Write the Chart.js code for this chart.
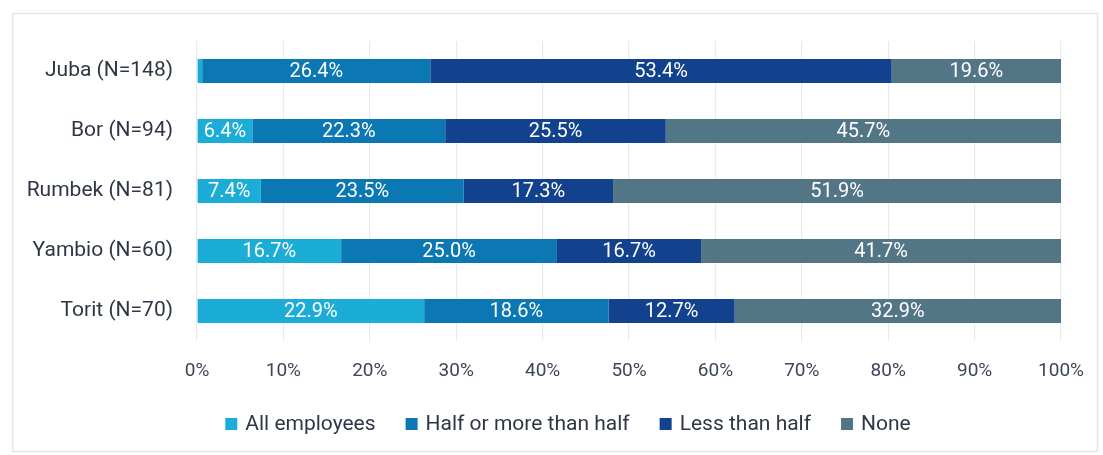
<!DOCTYPE html>
<html>
<head>
<meta charset="utf-8">
<style>
  html, body { margin: 0; padding: 0; background: #ffffff; }
  #wrap { position: relative; width: 1103px; height: 455px; }
  canvas { display: block; }
</style>
<script src="https://cdn.jsdelivr.net/npm/chart.js@4/dist/chart.umd.min.js"></script>
</head>
<body>
<div id="wrap"><canvas id="chart" width="1103" height="455"></canvas></div>
<script>
// Share of employees, by town (percent of respondents)
const towns = ["Juba (N=148)", "Bor (N=94)", "Rumbek (N=81)", "Yambio (N=60)", "Torit (N=70)"];
const seriesNames = ["All employees", "Half or more than half", "Less than half", "None"];
const allEmployees = [0.6, 6.4, 7.4, 16.7, 22.9];
const halfOrMore   = [26.4, 22.3, 23.5, 25.0, 18.6];
const lessThanHalf = [53.4, 25.5, 17.3, 16.7, 12.7];
const noneShare    = [19.6, 45.7, 51.9, 41.7, 32.9];
const tickValues   = [0, 10, 20, 30, 40, 50, 60, 70, 80, 90, 100];

const colors = ["#1badd6", "#0b77b3", "#12418d", "#537686"];
const raw = [allEmployees, halfOrMore, lessThanHalf, noneShare];

// each row is stacked to 100%
const rowTotals = towns.map((_, i) => raw.reduce((s, arr) => s + arr[i], 0));
const datasets = raw.map((arr, k) => ({
  label: seriesNames[k],
  data: arr.map((v, i) => v / rowTotals[i] * 100),
  rawValues: arr,
  backgroundColor: colors[k],
  borderWidth: 0,
  barPercentage: 0.8,
  categoryPercentage: 0.5
}));

const fontFamily = "Roboto, 'Liberation Sans', sans-serif";

// white value labels centred in each segment
const segmentLabels = {
  id: "segmentLabels",
  afterDatasetsDraw(chart) {
    const ctx = chart.ctx;
    ctx.save();
    ctx.fillStyle = "#ffffff";
    ctx.font = "20px " + fontFamily;
    ctx.textAlign = "center";
    ctx.textBaseline = "middle";
    chart.data.datasets.forEach((ds, di) => {
      const meta = chart.getDatasetMeta(di);
      meta.data.forEach((bar, i) => {
        const v = ds.rawValues[i];
        const w = Math.abs(bar.x - bar.base);
        if (w < 30) return;
        ctx.fillText(v.toFixed(1) + "%", (bar.x + bar.base) / 2, bar.y + 1);
      });
    });
    ctx.restore();
  }
};

// legend row under the axis: small square swatch followed by the series name
const legendRow = {
  id: "legendRow",
  afterDraw(chart) {
    const ctx = chart.ctx;
    const box = 12, gapText = 8, gapItem = 30, centreX = 568, y = 424;
    ctx.save();
    ctx.font = "21px " + fontFamily;
    ctx.textBaseline = "middle";
    const items = chart.data.datasets.map(ds => ({
      label: ds.label, color: ds.backgroundColor, w: ctx.measureText(ds.label).width
    }));
    const total = items.reduce((s, it) => s + box + gapText + it.w, 0) + gapItem * (items.length - 1);
    let x = centreX - total / 2;
    items.forEach(it => {
      ctx.fillStyle = it.color;
      ctx.fillRect(x, y - box / 2, box, box);
      ctx.fillStyle = "#2f3646";
      ctx.fillText(it.label, x + box + gapText, y + 1);
      x += box + gapText + it.w + gapItem;
    });
    ctx.restore();
  }
};

// light frame around the figure
const frame = {
  id: "frame",
  beforeDraw(chart) {
    const ctx = chart.ctx;
    ctx.save();
    ctx.strokeStyle = "#e4e6e8";
    ctx.lineWidth = 1.5;
    ctx.strokeRect(12.5, 13.5, 1085, 438);
    ctx.restore();
  }
};

new Chart(document.getElementById("chart"), {
  type: "bar",
  data: { labels: towns, datasets },
  plugins: [frame, segmentLabels, legendRow],
  options: {
    indexAxis: "y",
    responsive: false,
    animation: false,
    layout: { padding: { top: 41, left: 0, right: 38, bottom: 60 } },
    scales: {
      x: {
        stacked: true,
        min: 0,
        max: 100,
        afterBuildTicks(scale) { scale.ticks = tickValues.map(v => ({ value: v })); },
        afterFit(scale) { scale.height = 54; },
        border: { display: false },
        grid: { color: "#e9e9e9", lineWidth: 1.2, drawTicks: false },
        ticks: {
          padding: 19,
          color: "#3d4658",
          font: { family: fontFamily, size: 19 },
          callback: v => v + "%"
        }
      },
      y: {
        stacked: true,
        afterFit(scale) { scale.width = 197; },
        border: { display: false },
        grid: { display: false, drawTicks: false },
        ticks: {
          padding: 24,
          color: "#2f3646",
          font: { family: fontFamily, size: 21 }
        }
      }
    },
    plugins: {
      legend: { display: false },
      tooltip: { enabled: false }
    }
  }
});
</script>
</body>
</html>
